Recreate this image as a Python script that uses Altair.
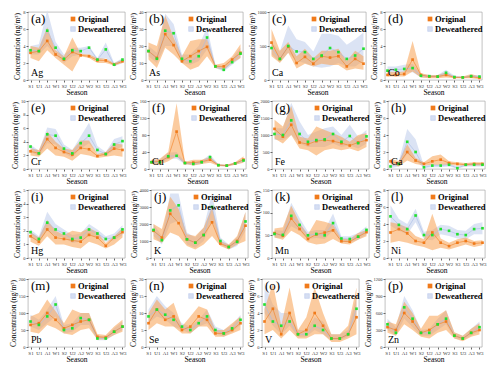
import altair as alt
import pandas as pd

SEASONS = ["S1", "U1", "A1", "W1", "S2", "U2", "A2", "W2", "S3", "U3", "A3", "W3"]

# (a) Ag
Ag_orig = [3.2, 3.4, 4.6, 3.0, 2.4, 3.3, 2.9, 2.8, 2.3, 2.3, 1.8, 2.2]
Ag_olo = [2.6, 2.2, 3.5, 2.6, 1.8, 1.0, 2.8, 2.6, 2.0, 2.0, 1.7, 2.0]
Ag_ohi = [4.0, 3.8, 6.2, 3.5, 2.8, 5.0, 3.1, 3.0, 2.6, 2.5, 2.0, 2.4]
Ag_dew = [3.5, 3.4, 5.8, 3.8, 2.5, 3.5, 3.4, 3.8, 2.4, 3.6, 1.8, 2.4]
Ag_dlo = [3.0, 3.0, 4.0, 3.0, 2.0, 2.8, 3.0, 3.0, 2.2, 2.6, 1.6, 2.0]
Ag_dhi = [4.0, 4.2, 8.2, 4.5, 3.0, 3.8, 3.8, 4.0, 2.6, 4.4, 2.0, 2.6]
# (b) As
As_orig = [17, 13, 27, 20.5, 11, 14, 17, 19.5, 8, 8, 12, 16]
As_olo = [12, 7, 19, 15, 10, 6, 8, 14, 7, 6, 10, 13]
As_ohi = [22, 20, 38, 25, 14, 23, 24, 24, 9, 10, 14, 21]
As_dew = [17, 12.5, 29, 27.5, 12.5, 11, 14, 25, 8, 6, 10.5, 15.5]
As_dlo = [14, 10, 20, 20, 10, 9, 11, 18, 7, 5, 9, 13]
As_dhi = [20, 16, 39, 33, 15, 15, 20, 31, 9, 8, 13, 19]
# (c) Ca
Ca_orig = [550, 310, 490, 250, 340, 240, 350, 330, 350, 200, 310, 240]
Ca_olo = [350, 250, 400, 170, 240, 200, 240, 220, 220, 140, 170, 150]
Ca_ohi = [750, 430, 560, 350, 460, 320, 430, 430, 460, 280, 430, 350]
Ca_dew = [470, 310, 500, 420, 410, 310, 360, 470, 410, 310, 360, 460]
Ca_dlo = [380, 260, 400, 280, 250, 200, 180, 200, 250, 200, 200, 280]
Ca_dhi = [560, 420, 800, 600, 560, 420, 680, 680, 650, 520, 600, 700]
# (d) Co
Co_orig = [0.6, 0.6, 0.7, 2.4, 0.6, 0.4, 0.4, 0.6, 0.3, 0.3, 0.4, 0.25]
Co_olo = [0.4, 0.4, 0.4, 1.0, 0.3, 0.2, 0.2, 0.3, 0.2, 0.2, 0.2, 0.1]
Co_ohi = [1.0, 0.9, 1.0, 4.6, 0.8, 0.6, 0.6, 0.9, 0.4, 0.4, 0.7, 0.4]
Co_dew = [1.1, 1.2, 1.3, 1.4, 0.5, 0.45, 0.4, 0.85, 0.35, 0.3, 0.45, 0.4]
Co_dlo = [0.7, 0.8, 0.9, 0.9, 0.3, 0.3, 0.3, 0.5, 0.25, 0.2, 0.3, 0.25]
Co_dhi = [1.6, 1.6, 1.8, 1.9, 0.7, 0.6, 0.6, 1.2, 0.5, 0.4, 0.6, 0.6]
# (e) Cr
Cr_orig = [2.6, 2.3, 4.4, 3.1, 2.5, 2.1, 3.1, 2.9, 1.9, 2.2, 3.0, 2.8]
Cr_olo = [2.0, 1.8, 3.0, 2.0, 1.8, 1.2, 2.2, 2.0, 1.6, 1.8, 2.0, 1.8]
Cr_ohi = [3.0, 2.8, 5.5, 4.0, 3.0, 2.8, 4.2, 4.2, 2.2, 2.5, 3.8, 3.6]
Cr_dew = [3.3, 2.3, 5.1, 4.9, 3.0, 2.3, 3.8, 4.9, 2.8, 2.2, 3.6, 4.1]
Cr_dlo = [2.5, 1.9, 3.8, 3.6, 2.3, 1.7, 3.0, 3.8, 2.2, 1.9, 2.8, 3.3]
Cr_dhi = [3.6, 2.7, 6.1, 5.9, 3.6, 2.8, 4.8, 6.8, 3.4, 2.5, 4.4, 4.8]
# (f) Cu
Cu_orig = [16, 18, 28, 88, 14, 15, 17, 22, 9, 8, 13, 22]
Cu_olo = [12, 10, 18, 30, 12, 8, 12, 15, 7, 6, 10, 15]
Cu_ohi = [22, 24, 40, 155, 17, 22, 22, 28, 11, 10, 16, 30]
Cu_dew = [16, 16, 30, 31, 14, 12, 16, 28, 9, 8, 13, 20]
Cu_dlo = [12, 12, 24, 24, 11, 9, 12, 20, 7, 6, 10, 16]
Cu_dhi = [20, 22, 38, 40, 17, 16, 20, 34, 11, 10, 16, 24]
# (g) Fe
Fe_orig = [1180, 950, 1300, 780, 730, 820, 850, 820, 760, 690, 780, 850]
Fe_olo = [900, 750, 1000, 600, 550, 400, 550, 600, 550, 600, 520, 650]
Fe_ohi = [1450, 1250, 1850, 950, 900, 1250, 1150, 1050, 950, 800, 1000, 1050]
Fe_dew = [1030, 1000, 1430, 1030, 800, 850, 870, 1030, 800, 970, 760, 960]
Fe_dlo = [850, 850, 1000, 750, 650, 650, 650, 750, 650, 700, 600, 750]
Fe_dhi = [1200, 1200, 1950, 1400, 1000, 1100, 1200, 1250, 1000, 1300, 950, 1150]
# (h) Ga
Ga_orig = [0.9, 0.6, 2.0, 1.0, 0.6, 0.9, 1.1, 0.7, 0.6, 0.5, 0.6, 0.6]
Ga_olo = [0.6, 0.3, 1.0, 0.6, 0.4, 0.5, 0.5, 0.5, 0.4, 0.4, 0.4, 0.4]
Ga_ohi = [1.2, 0.9, 2.9, 1.3, 0.8, 1.5, 1.7, 0.9, 0.8, 0.7, 0.8, 0.8]
Ga_dew = [0.3, 0.6, 3.2, 2.0, 0.2, 0.4, 0.4, 0.5, 0.1, 0.5, 0.5, 0.5]
Ga_dlo = [0.1, 0.3, 1.8, 1.0, 0.1, 0.2, 0.2, 0.3, 0.05, 0.3, 0.3, 0.3]
Ga_dhi = [0.6, 0.9, 4.7, 3.5, 0.4, 0.6, 0.6, 0.7, 0.3, 0.7, 0.7, 0.7]
# (i) Hg
Hg_orig = [1.6, 1.2, 2.1, 1.5, 1.4, 1.3, 1.2, 1.7, 1.5, 0.9, 1.5, 1.9]
Hg_olo = [1.2, 0.9, 1.6, 1.0, 1.0, 0.8, 0.7, 1.2, 1.0, 0.7, 1.0, 1.5]
Hg_ohi = [1.9, 1.5, 2.8, 2.0, 1.7, 2.0, 1.9, 2.2, 1.9, 1.1, 1.6, 2.2]
Hg_dew = [1.9, 1.4, 2.6, 2.1, 1.8, 1.4, 1.5, 2.1, 1.8, 1.4, 1.5, 2.1]
Hg_dlo = [1.5, 1.2, 2.0, 1.6, 1.5, 1.1, 1.2, 1.7, 1.5, 1.2, 1.3, 1.7]
Hg_dhi = [2.1, 1.6, 3.4, 2.5, 2.1, 1.7, 1.8, 2.5, 2.1, 1.6, 1.8, 2.4]
# (j) K
K_orig = [1600, 1200, 2600, 2050, 1100, 900, 1350, 2100, 850, 650, 1000, 1900]
K_olo = [1100, 900, 1500, 1300, 700, 500, 800, 1300, 700, 500, 800, 1000]
K_ohi = [2000, 1700, 3600, 2900, 1400, 1300, 1800, 3000, 1000, 800, 1300, 2700]
K_dew = [1650, 1050, 2800, 3100, 1100, 900, 1350, 3000, 1000, 650, 950, 2150]
K_dlo = [1300, 800, 2000, 2200, 800, 600, 1000, 2200, 800, 500, 700, 1600]
K_dhi = [2000, 1300, 3800, 3800, 1500, 1200, 1800, 3800, 1200, 800, 1200, 2700]
# (k) Mn
Mn_orig = [55, 49, 87, 64, 42, 52, 56, 61, 37, 36, 47, 57]
Mn_olo = [45, 40, 60, 50, 35, 30, 32, 42, 32, 30, 40, 48]
Mn_ohi = [65, 68, 115, 78, 52, 84, 80, 74, 42, 42, 55, 62]
Mn_dew = [53, 51, 93, 73, 50, 53, 50, 77, 43, 42, 47, 62]
Mn_dlo = [45, 44, 70, 60, 42, 44, 42, 60, 36, 34, 40, 52]
Mn_dhi = [62, 60, 122, 88, 58, 62, 62, 98, 48, 48, 55, 70]
# (l) Ni
Ni_orig = [3.0, 3.4, 2.9, 2.0, 1.8, 3.0, 1.8, 1.4, 1.8, 2.0, 1.7, 1.8]
Ni_olo = [1.8, 2.0, 1.8, 1.5, 1.3, 0.9, 1.2, 1.0, 1.3, 1.6, 1.3, 1.5]
Ni_ohi = [4.2, 4.0, 3.6, 2.6, 2.2, 5.2, 2.3, 1.8, 2.2, 2.4, 2.0, 2.1]
Ni_dew = [4.9, 3.9, 3.4, 5.0, 2.7, 2.7, 3.4, 3.2, 2.8, 2.7, 3.4, 3.5]
Ni_dlo = [3.8, 3.2, 2.8, 4.2, 2.2, 2.1, 2.8, 2.6, 2.3, 2.2, 2.8, 2.8]
Ni_dhi = [6.2, 4.6, 4.0, 5.8, 3.1, 3.3, 3.9, 3.8, 3.3, 3.2, 4.0, 4.2]
# (m) Pb
Pb_orig = [65, 70, 100, 80, 55, 65, 75, 80, 30, 28, 45, 60]
Pb_olo = [45, 40, 65, 55, 40, 35, 50, 55, 22, 22, 35, 45]
Pb_ohi = [90, 100, 140, 105, 70, 110, 100, 100, 38, 35, 60, 80]
Pb_dew = [75, 65, 90, 125, 50, 55, 85, 80, 25, 25, 45, 60]
Pb_dlo = [60, 50, 70, 90, 40, 45, 65, 65, 20, 20, 35, 50]
Pb_dhi = [95, 80, 110, 150, 65, 70, 100, 100, 32, 32, 55, 75]
# (n) Se
Se_orig = [7, 11, 8, 9, 5, 6, 9, 8, 4, 4, 5, 7]
Se_olo = [5, 7, 6, 6, 4, 4, 6, 6, 3, 3, 4, 5]
Se_ohi = [10, 14, 11, 13, 6, 9, 12, 11, 5, 5, 7, 9]
Se_dew = [9, 11, 9.5, 8, 6, 5, 7, 9, 5, 4, 5.5, 8]
Se_dlo = [7, 9, 8, 6, 5, 4, 6, 7, 4, 3, 4.5, 6.5]
Se_dhi = [11, 15, 12, 10, 7, 6, 8, 11, 6, 5, 6.5, 9.5]
# (o) V
V_orig = [3.0, 4.5, 1.5, 4.0, 1.5, 2.0, 4.0, 2.5, 1.0, 1.0, 1.5, 3.5]
V_olo = [1.5, 2.0, 1.0, 2.0, 1.0, 1.0, 1.5, 1.5, 0.6, 0.6, 1.0, 1.5]
V_ohi = [4.5, 7.5, 2.5, 7.0, 2.0, 3.5, 7.0, 4.0, 1.5, 1.5, 2.5, 7.0]
V_dew = [5.0, 3.0, 2.5, 3.0, 1.5, 1.5, 2.5, 2.0, 1.0, 1.0, 1.5, 4.5]
V_dlo = [4.0, 2.5, 1.5, 2.5, 1.2, 1.2, 2.0, 1.5, 0.8, 0.8, 1.2, 3.5]
V_dhi = [7.5, 5.0, 4.0, 4.0, 2.0, 2.0, 3.5, 3.0, 1.5, 1.5, 2.0, 6.0]
# (p) Zn
Zn_orig = [350, 300, 600, 450, 250, 300, 400, 450, 200, 150, 250, 300]
Zn_olo = [250, 200, 400, 300, 180, 150, 250, 300, 150, 100, 180, 220]
Zn_ohi = [450, 400, 800, 600, 320, 550, 550, 650, 260, 200, 320, 420]
Zn_dew = [400, 250, 700, 500, 250, 250, 400, 500, 200, 150, 250, 350]
Zn_dlo = [300, 200, 500, 350, 200, 200, 300, 400, 150, 120, 200, 280]
Zn_dhi = [500, 350, 900, 650, 300, 320, 500, 650, 250, 200, 320, 450]

PANELS = [
    ("(a)", "Ag", 8, 2, Ag_orig, Ag_olo, Ag_ohi, Ag_dew, Ag_dlo, Ag_dhi),
    ("(b)", "As", 40, 10, As_orig, As_olo, As_ohi, As_dew, As_dlo, As_dhi),
    ("(c)", "Ca", 1000, 500, Ca_orig, Ca_olo, Ca_ohi, Ca_dew, Ca_dlo, Ca_dhi),
    ("(d)", "Co", 8, 2, Co_orig, Co_olo, Co_ohi, Co_dew, Co_dlo, Co_dhi),
    ("(e)", "Cr", 10, 2, Cr_orig, Cr_olo, Cr_ohi, Cr_dew, Cr_dlo, Cr_dhi),
    ("(f)", "Cu", 160, 40, Cu_orig, Cu_olo, Cu_ohi, Cu_dew, Cu_dlo, Cu_dhi),
    ("(g)", "Fe", 2000, 500, Fe_orig, Fe_olo, Fe_ohi, Fe_dew, Fe_dlo, Fe_dhi),
    ("(h)", "Ga", 8, 2, Ga_orig, Ga_olo, Ga_ohi, Ga_dew, Ga_dlo, Ga_dhi),
    ("(i)", "Hg", 5, 1, Hg_orig, Hg_olo, Hg_ohi, Hg_dew, Hg_dlo, Hg_dhi),
    ("(j)", "K", 4000, 1000, K_orig, K_olo, K_ohi, K_dew, K_dlo, K_dhi),
    ("(k)", "Mn", 150, 50, Mn_orig, Mn_olo, Mn_ohi, Mn_dew, Mn_dlo, Mn_dhi),
    ("(l)", "Ni", 8, 2, Ni_orig, Ni_olo, Ni_ohi, Ni_dew, Ni_dlo, Ni_dhi),
    ("(m)", "Pb", 200, 50, Pb_orig, Pb_olo, Pb_ohi, Pb_dew, Pb_dlo, Pb_dhi),
    ("(n)", "Se", 20, 5, Se_orig, Se_olo, Se_ohi, Se_dew, Se_dlo, Se_dhi),
    ("(o)", "V", 8, 2, V_orig, V_olo, V_ohi, V_dew, V_dlo, V_dhi),
    ("(p)", "Zn", 1200, 300, Zn_orig, Zn_olo, Zn_ohi, Zn_dew, Zn_dlo, Zn_dhi),
]

FONT = "Liberation Serif"
W, H = 97, 68
ORANGE = "#f07a1a"
ORANGE_BAND = "#f7a050"
BLUE_BAND = "#d5def2"
BLUE_LINE = "#a8bce6"
GREEN = "#22e030"
YTITLE = "Concentration (ng/m³)"


def panel(letter, name, ymax, step, orig, olo, ohi, dew, dlo, dhi):
    df = pd.DataFrame({"season": SEASONS, "orig": orig, "olo": olo, "ohi": ohi,
                       "dew": dew, "dlo": dlo, "dhi": dhi})
    xenc = alt.X("season:O", sort=SEASONS, scale=alt.Scale(padding=0.3),
                 axis=alt.Axis(title="Season", labelAngle=0, labelFontSize=5,
                               titleFontSize=7.5, titlePadding=0, labelPadding=1,
                               tickSize=2, labelFont=FONT, titleFont=FONT,
                               titleFontWeight="normal", domain=False))
    ys = alt.Scale(domain=[0, ymax], nice=False)
    yaxis = alt.Axis(title=YTITLE, values=list(range(0, ymax + 1, step)), format="d",
                     labelFontSize=4.5, titleFontSize=7.5, titlePadding=1, labelPadding=1,
                     tickSize=2, grid=False, labelFont=FONT, titleFont=FONT,
                     titleFontWeight="normal", domain=False)

    def Y(field):
        return alt.Y(field, scale=ys, axis=yaxis, title=YTITLE)

    base = alt.Chart(df).encode(x=xenc)
    blue = base.mark_area(color=BLUE_BAND, opacity=0.85).encode(
        y=Y("dlo:Q"), y2=alt.Y2("dhi:Q", title=YTITLE))
    orange = base.mark_area(color=ORANGE_BAND, opacity=0.55).encode(
        y=Y("olo:Q"), y2=alt.Y2("ohi:Q", title=YTITLE))
    dline = base.mark_line(color=BLUE_LINE, strokeWidth=0.6).encode(y=Y("dew:Q"))
    oline = base.mark_line(color=ORANGE, strokeWidth=0.7, opacity=0.8).encode(y=Y("orig:Q"))
    opts = base.mark_square(color=ORANGE, size=7, opacity=1).encode(y=Y("orig:Q"))
    dpts = base.mark_square(color=GREEN, size=7, opacity=1).encode(y=Y("dew:Q"))

    lab = pd.DataFrame({"t": [letter]})
    letter_t = alt.Chart(lab).mark_text(font=FONT, fontSize=13, align="left",
                                        baseline="top", color="black").encode(
        x=alt.value(3), y=alt.value(1), text="t:N")
    nm = pd.DataFrame({"t": [name]})
    name_t = alt.Chart(nm).mark_text(font=FONT, fontSize=10, align="left",
                                     baseline="bottom", color="black").encode(
        x=alt.value(3), y=alt.value(H - 2), text="t:N")
    leg1 = pd.DataFrame({"t": ["Original"]})
    leg2 = pd.DataFrame({"t": ["Deweathered"]})
    sw1 = alt.Chart(leg1).mark_square(color=ORANGE, size=22, opacity=1).encode(
        x=alt.value(45), y=alt.value(7))
    sw2 = alt.Chart(leg2).mark_square(color=BLUE_BAND, size=22, opacity=1,
                                      stroke=BLUE_LINE, strokeWidth=0.4).encode(
        x=alt.value(45), y=alt.value(17))
    t1 = alt.Chart(leg1).mark_text(font=FONT, fontSize=8.5, fontWeight="bold",
                                   align="left", baseline="middle", color="black").encode(
        x=alt.value(50), y=alt.value(7), text="t:N")
    t2 = alt.Chart(leg2).mark_text(font=FONT, fontSize=8.5, fontWeight="bold",
                                   align="left", baseline="middle", color="black").encode(
        x=alt.value(50), y=alt.value(17), text="t:N")
    return alt.layer(blue, orange, dline, oline, opts, dpts, letter_t, name_t,
                     sw1, sw2, t1, t2).properties(width=W, height=H)


rows = []
for r in range(4):
    rows.append(alt.hconcat(*[panel(*p) for p in PANELS[r * 4:(r + 1) * 4]], spacing=2))

chart = alt.vconcat(*rows, spacing=1).properties(padding=0).configure_view(
    stroke="#999999", strokeWidth=0.6).configure_axis(tickColor="#666666",
                                                       labelColor="#333333")

chart.save("out.html", embed_options={"renderer": "svg", "actions": False})
